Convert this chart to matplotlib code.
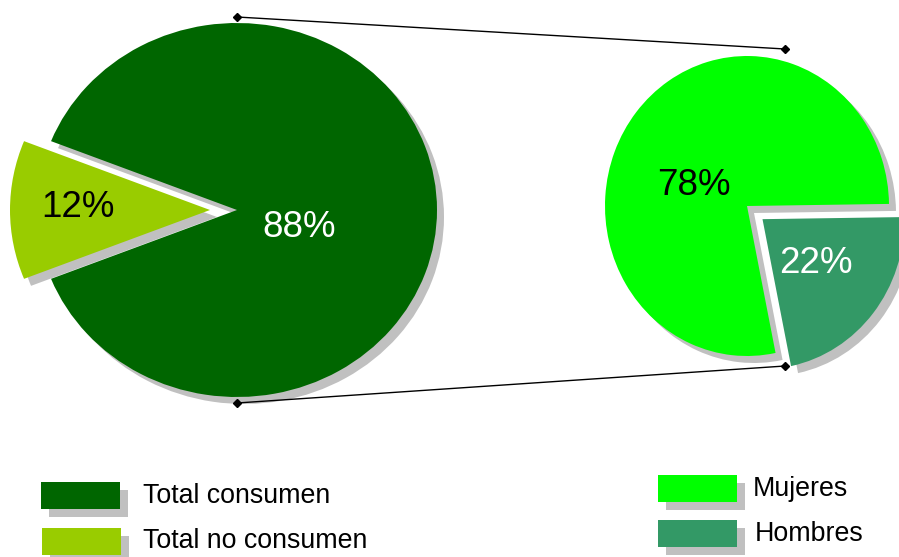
import matplotlib
matplotlib.use("Agg")
import matplotlib.pyplot as plt
from matplotlib.patches import Rectangle

plt.rcParams['font.family'] = ['Liberation Sans', 'DejaVu Sans']

# ---- data ----
main_labels = ["Total consumen", "Total no consumen"]
main_values = [88, 12]
main_colors = ["#006600", "#99CC00"]

sub_labels = ["Mujeres", "Hombres"]
sub_values = [78, 22]
sub_colors = ["#00FF00", "#339966"]

SHADOW = "#C0C0C0"
W, H = 899, 557

fig = plt.figure(figsize=(W / 100, H / 100), dpi=100)


def pie_axes(cx, cy, rx, ry, lim=1.6):
    ax = fig.add_axes([(cx - lim * rx) / W, 1 - (cy + lim * ry) / H,
                       2 * lim * rx / W, 2 * lim * ry / H])
    return ax, lim


def draw_pie(ax, lim, values, colors, startangle, explode, rx, ry, sh=(7, 7)):
    ax.pie(values, colors=[SHADOW] * len(values), startangle=startangle,
           explode=explode, center=(sh[0] / rx, -sh[1] / ry), radius=1,
           wedgeprops=dict(linewidth=0), frame=False)
    ax.pie(values, colors=colors, startangle=startangle, explode=explode,
           center=(0, 0), radius=1, wedgeprops=dict(linewidth=0), frame=False)
    ax.set_aspect('auto')
    ax.set_xlim(-lim, lim)
    ax.set_ylim(-lim, lim)
    ax.axis('off')


# left (main) pie
axL, limL = pie_axes(237, 210, 200, 187)
draw_pie(axL, limL, main_values, main_colors, 201.6, [0, 0.135], 200, 187)

# right (sub) pie
axR, limR = pie_axes(747, 206, 142, 150)
draw_pie(axR, limR, sub_values, sub_colors, 0.8, [0, 0.14], 142, 150)

# overlay for lines, labels, legend
ov = fig.add_axes([0, 0, 1, 1])
ov.set_xlim(0, W)
ov.set_ylim(H, 0)
ov.axis('off')
ov.patch.set_visible(False)

# connector lines
for (x0, y0), (x1, y1) in [((237, 17), (785, 49)), ((237, 403), (785, 366))]:
    ov.plot([x0, x1], [y0, y1], color="black", lw=1, marker='D',
            markersize=4.5, markerfacecolor="black")

# percentage labels
fs = 26.5
ov.text(299, 237, f"{main_values[0]}%", color="white", fontsize=fs, ha='center', va='baseline')
ov.text(78, 217, f"{main_values[1]}%", color="black", fontsize=fs, ha='center', va='baseline')
ov.text(694, 195, f"{sub_values[0]}%", color="black", fontsize=fs, ha='center', va='baseline')
ov.text(816, 273, f"{sub_values[1]}%", color="white", fontsize=fs, ha='center', va='baseline')

# legends
lfs = 19.3
legend_items = [
    ((41, 482), main_colors[0], main_labels[0], (143, 496)),
    ((42, 528), main_colors[1], main_labels[1], (143, 541)),
    ((658, 475), sub_colors[0], sub_labels[0], (753, 489)),
    ((658, 520), sub_colors[1], sub_labels[1], (755, 534)),
]
for (x, y), c, lab, (tx, ty) in legend_items:
    ov.add_patch(Rectangle((x + 8, y + 8), 79, 27, facecolor=SHADOW, edgecolor='none'))
    ov.add_patch(Rectangle((x, y), 79, 27, facecolor=c, edgecolor='none'))
    ov.text(tx, ty, lab, fontsize=lfs, ha='left', va='center', color='black')

fig.savefig("out.png", dpi=100)
